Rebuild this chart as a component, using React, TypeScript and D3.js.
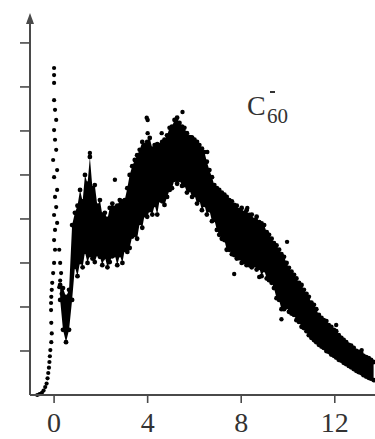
import { useMemo } from 'react';
import * as d3 from 'd3';

// dense band of the spectrum: x (binding energy), lower and upper edge of the point cloud
const bandX = [0.26, 0.38, 0.51, 0.64, 0.77, 0.89, 1.0, 1.11, 1.22, 1.32, 1.43, 1.53, 1.64, 1.74, 1.85, 1.96, 2.06, 2.17, 2.28, 2.38, 2.49, 2.6, 2.7, 2.81, 2.92, 3.02, 3.13, 3.23, 3.34, 3.45, 3.55, 3.66, 3.77, 3.87, 3.98, 4.09, 4.2, 4.3, 4.41, 4.51, 4.62, 4.72, 4.83, 4.94, 5.04, 5.15, 5.26, 5.36, 5.47, 5.57, 5.68, 5.79, 5.9, 6.0, 6.11, 6.21, 6.32, 6.43, 6.53, 6.64, 6.75, 6.85, 6.96, 7.06, 7.17, 7.28, 7.38, 7.49, 7.6, 7.7, 7.81, 7.91, 8.02, 8.13, 8.23, 8.34, 8.45, 8.55, 8.66, 8.77, 8.87, 8.98, 9.09, 9.19, 9.3, 9.4, 9.51, 9.62, 9.72, 9.83, 9.94, 10.04, 10.15, 10.26, 10.36, 10.47, 10.58, 10.68, 10.79, 10.89, 11.0, 11.11, 11.21, 11.32, 11.43, 11.53, 11.64, 11.74, 11.85, 11.96, 12.06, 12.17, 12.28, 12.38, 12.49, 12.6, 12.7, 12.81, 12.92, 13.02, 13.13, 13.23, 13.34, 13.45, 13.55, 13.66];
const bandLow = [2.16, 1.48, 1.2, 1.48, 2.16, 2.91, 2.7, 3.02, 2.9, 3.25, 3.0, 3.18, 3.1, 3.02, 3.2, 3.14, 2.95, 3.14, 2.9, 3.02, 3.15, 3.18, 2.95, 3.18, 3.0, 3.3, 3.25, 3.34, 3.6, 3.64, 3.55, 3.91, 3.8, 4.09, 4.05, 4.2, 4.1, 4.32, 4.1, 4.43, 4.4, 4.32, 4.5, 4.66, 4.7, 4.89, 4.8, 4.89, 4.75, 4.77, 4.6, 4.66, 4.5, 4.55, 4.35, 4.43, 4.2, 4.32, 4.1, 4.2, 3.95, 3.98, 3.75, 3.64, 3.55, 3.52, 3.3, 3.3, 3.2, 3.18, 3.1, 3.11, 3.0, 3.02, 2.95, 2.95, 2.9, 2.95, 2.85, 2.89, 2.7, 2.84, 2.65, 2.61, 2.55, 2.43, 2.2, 2.16, 1.95, 1.95, 2.0, 1.89, 1.85, 1.82, 1.7, 1.66, 1.55, 1.52, 1.45, 1.36, 1.3, 1.25, 1.2, 1.14, 1.1, 1.07, 1.0, 0.98, 0.92, 0.89, 0.85, 0.8, 0.78, 0.73, 0.7, 0.66, 0.63, 0.59, 0.55, 0.52, 0.5, 0.45, 0.42, 0.39, 0.37, 0.34];
const bandHigh = [2.5, 2.43, 2.23, 2.39, 3.86, 4.14, 4.3, 4.66, 4.4, 5.0, 4.8, 5.41, 4.7, 4.77, 4.3, 4.43, 4.1, 4.14, 4.0, 4.25, 4.35, 4.25, 4.3, 4.43, 4.4, 4.43, 4.7, 5.0, 5.2, 5.34, 5.45, 5.57, 5.75, 5.68, 5.75, 5.84, 5.6, 5.68, 5.7, 5.68, 5.75, 5.8, 5.9, 6.07, 6.1, 6.25, 6.3, 6.18, 6.1, 6.07, 5.95, 5.86, 5.85, 5.8, 5.75, 5.68, 5.6, 5.52, 5.3, 5.11, 4.95, 4.77, 4.7, 4.66, 4.6, 4.55, 4.5, 4.43, 4.4, 4.32, 4.3, 4.2, 4.25, 4.14, 4.2, 4.09, 4.1, 3.98, 4.05, 3.93, 3.9, 3.86, 3.7, 3.64, 3.55, 3.45, 3.4, 3.3, 3.2, 3.14, 3.0, 2.89, 2.8, 2.73, 2.65, 2.55, 2.5, 2.39, 2.3, 2.23, 2.1, 2.05, 1.95, 1.82, 1.75, 1.7, 1.68, 1.59, 1.55, 1.48, 1.45, 1.36, 1.3, 1.25, 1.2, 1.14, 1.12, 1.07, 1.0, 0.98, 0.95, 0.89, 0.86, 0.84, 0.8, 0.75];

// sparse points of the sharp threshold peak near 0
const peakDots: [number, number][] = [
  [-0.72, 0.0], [-0.62, 0.02], [-0.52, 0.05], [-0.45, 0.1], [-0.38, 0.18], [-0.32, 0.26], [-0.28, 0.38],
  [-0.25, 0.5], [-0.22, 0.62], [-0.2, 0.75], [-0.18, 0.88], [-0.16, 1.02], [-0.12, 1.2], [-0.1, 1.4],
  [-0.12, 1.64], [-0.13, 1.93], [-0.13, 2.09], [-0.12, 2.23], [-0.1, 2.39], [-0.08, 2.55], [-0.04, 2.77],
  [0.0, 3.0], [0.04, 3.3], [0.0, 3.52], [0.04, 3.75], [0.13, 3.91], [0.0, 4.09], [0.09, 4.27], [0.04, 4.5],
  [0.13, 4.66], [0.0, 4.95], [0.13, 5.11], [-0.04, 5.34], [0.09, 5.57], [0.04, 5.8], [0.0, 6.02],
  [0.09, 6.25], [0.04, 6.48], [0.0, 6.7], [0.0, 7.09], [0.0, 7.27], [0.0, 7.43],
  [0.22, 3.3], [0.26, 3.0], [0.3, 2.77], [0.26, 2.6], [0.22, 2.45], [0.32, 2.3],
];

// isolated points around the broad band
const strayDots: [number, number][] = [
  [2.6, 4.89], [4.0, 6.25], [5.49, 6.43], [4.6, 5.95], [4.0, 5.95], [5.87, 5.86], [6.55, 5.52],
  [8.26, 4.25], [7.7, 2.75], [8.77, 2.68], [9.96, 3.48], [12.06, 1.59], [13.15, 1.02], [9.72, 1.72],
  [2.09, 3.1], [3.96, 6.3], [1.53, 5.5],
];

const xTicks = [0, 4, 8, 12];
const yTicks = [1, 2, 3, 4, 5, 6, 7, 8];

export default function App() {
  const width = 375;
  const height = 439;

  const x = d3.scaleLinear().domain([-1.03, 13.72]).range([30, 375]);
  const y = d3.scaleLinear().domain([0, 8.68]).range([395, 13]);

  const band = bandX.map((v, i) => ({ x: v, lo: bandLow[i], hi: bandHigh[i] }));

  const areaPath = useMemo(() => {
    const area = d3.area<{ x: number; lo: number; hi: number }>()
      .x(d => x(d.x))
      .y0(d => y(d.lo))
      .y1(d => y(d.hi));
    return area(band) || '';
  }, []);

  const axisColor = '#4a4a4a';
  const font = '"Liberation Serif", "DejaVu Serif", serif';

  return (
    <svg width={width} height={height} style={{ position: 'absolute', left: 0, top: 0, background: '#fff' }}>
      {/* data */}
      <path d={areaPath} fill="#000" />
      {band.map((d, i) => (
        <g key={'b' + i}>
          <circle cx={x(d.x)} cy={y(d.lo)} r={2.4} fill="#000" />
          <circle cx={x(d.x)} cy={y(d.hi)} r={2.4} fill="#000" />
        </g>
      ))}
      {peakDots.map((d, i) => (
        <circle key={'p' + i} cx={x(d[0])} cy={y(d[1])} r={2.1} fill="#000" />
      ))}
      {strayDots.map((d, i) => (
        <circle key={'s' + i} cx={x(d[0])} cy={y(d[1])} r={2.2} fill="#000" />
      ))}

      {/* axes */}
      <line x1={x.range()[0]} x2={x.range()[1]} y1={y(0)} y2={y(0)} stroke={axisColor} strokeWidth={2} />
      <line x1={x.range()[0]} x2={x.range()[0]} y1={y(0)} y2={y.range()[1] + 6} stroke={axisColor} strokeWidth={2} />
      <path
        d={`M${x.range()[0]},${y.range()[1]} l-4,11 l8,0 z`}
        fill={axisColor}
      />
      {yTicks.map(t => (
        <line key={'yt' + t} x1={x.range()[0] - 10} x2={x.range()[0]} y1={y(t)} y2={y(t)} stroke={axisColor} strokeWidth={1.6} />
      ))}
      {xTicks.map(t => (
        <g key={'xt' + t}>
          <line x1={x(t)} x2={x(t)} y1={y(0)} y2={y(0) + 8} stroke={axisColor} strokeWidth={1.6} />
          <text x={x(t)} y={432} textAnchor="middle" fontFamily={font} fontSize={28} fill="#333">{t}</text>
        </g>
      ))}

      {/* species label */}
      <text x={247} y={115} fontFamily={font} fontSize={28} fill="#333">C</text>
      <text x={267} y={123} fontFamily={font} fontSize={21} fill="#333">60</text>
      <line x1={270} x2={275} y1={92} y2={92} stroke="#333" strokeWidth={2} />
    </svg>
  );
}
